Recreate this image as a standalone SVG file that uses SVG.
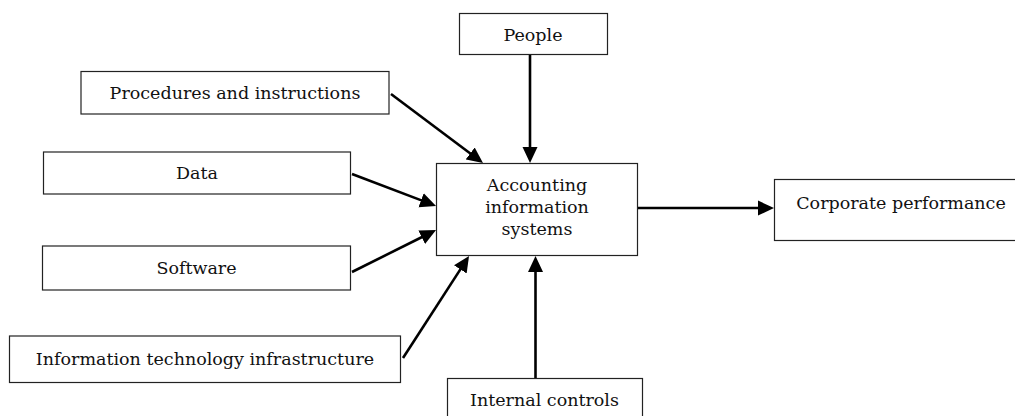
<svg xmlns="http://www.w3.org/2000/svg" width="1015" height="416" viewBox="0 0 1015 416">
<style>
.box{fill:#fff;stroke:#222;stroke-width:1.2}
.lbl{font-family:"DejaVu Serif","Liberation Serif",serif;font-size:17.5px;fill:#111;text-anchor:middle}
.con{stroke:#000;stroke-width:2.6;fill:none}
</style>
<defs>
<marker id="ah" viewBox="0 -8 16 16" refX="6" refY="0" markerWidth="16" markerHeight="16" markerUnits="userSpaceOnUse" orient="auto">
<path d="M0,-7.5 L16,0 L0,7.5 z" fill="#000"/>
</marker>
</defs>
<rect width="1015" height="416" fill="#fff"/>
<g id="connectors">
<path class="con" d="M530,55 L530,153" marker-end="url(#ah)"/>
<path class="con" d="M391,94 L475,157" marker-end="url(#ah)"/>
<path class="con" d="M352,174 L426.7,202.4" marker-end="url(#ah)"/>
<path class="con" d="M352,272 L427.1,234.5" marker-end="url(#ah)"/>
<path class="con" d="M403,358 L463.6,264.4" marker-end="url(#ah)"/>
<path class="con" d="M535.5,378 L535.5,266" marker-end="url(#ah)"/>
<path class="con" d="M638,208 L764,208" marker-end="url(#ah)"/>
</g>
<g id="people"><rect class="box" x="459.5" y="13.5" width="148" height="41"/><text class="lbl" x="533" y="41">People</text></g>
<g id="procedures"><rect class="box" x="81" y="71.5" width="308" height="42.5"/><text class="lbl" x="235" y="99">Procedures and instructions</text></g>
<g id="data"><rect class="box" x="43.5" y="152" width="307" height="42"/><text class="lbl" x="197" y="179">Data</text></g>
<g id="software"><rect class="box" x="42.5" y="246" width="308" height="44"/><text class="lbl" x="196.5" y="274">Software</text></g>
<g id="it"><rect class="box" x="9.5" y="336" width="391" height="46.5"/><text class="lbl" x="205" y="365">Information technology infrastructure</text></g>
<g id="ais"><rect class="box" x="436.5" y="163.5" width="201" height="92"/>
<text class="lbl" x="537" y="191">Accounting</text>
<text class="lbl" x="537" y="213">information</text>
<text class="lbl" x="537" y="235">systems</text></g>
<g id="corporate"><rect class="box" x="774.5" y="179.5" width="260" height="61"/><text class="lbl" x="901" y="209">Corporate performance</text></g>
<g id="internal"><rect class="box" x="447.5" y="378.5" width="195" height="60"/><text class="lbl" x="544.5" y="406">Internal controls</text></g>
</svg>
